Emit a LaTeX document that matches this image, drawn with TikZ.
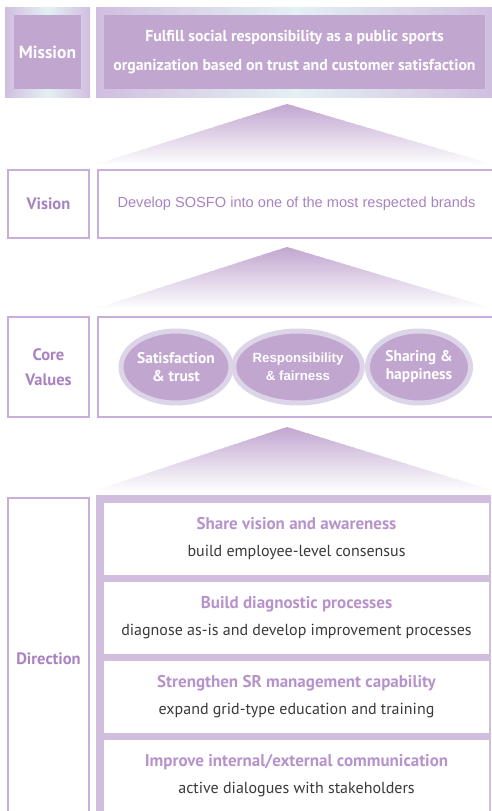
\documentclass[tikz,border=0pt]{standalone}
\usepackage{fontspec}
\setmainfont{PT Sans}
\newfontfamily\arialfont{Liberation Sans}
\usetikzlibrary{positioning,shapes.geometric,calc}
\definecolor{lilac}{HTML}{C1A6D0}
\definecolor{lilacframe}{HTML}{D1BEDF}
\definecolor{lilacline}{HTML}{C9ADDA}
\definecolor{lilactext}{HTML}{A983C1}
\definecolor{lilachead}{HTML}{B793CB}
\definecolor{lilacring}{HTML}{DCD5E8}
\definecolor{palecyan}{HTML}{E3F0F4}
\definecolor{bodygray}{HTML}{3A3A3A}
% rising roof between two rows: apex y, base y
\newcommand{\riseroof}[2]{%
  \foreach \i in {0,...,39}{
    \pgfmathsetmacro{\ta}{\i/40}
    \pgfmathsetmacro{\tb}{min((\i+1.5)/40,1)}
    \pgfmathsetmacro{\tone}{100-97*(\i+0.5)/40}
    \fill[lilac!\tone!white] (287-190*\ta,{#1+(#2-#1)*\ta}) -- (287+204*\ta,{#1+(#2-#1)*\ta})
      -- (287+204*\tb,{#1+(#2-#1)*\tb}) -- (287-190*\tb,{#1+(#2-#1)*\tb}) -- cycle;
  }}

\begin{document}
\begin{tikzpicture}[x=1pt,y=-1pt,
    lblbox/.style={draw=lilacline,line width=2pt,fill=white,minimum width=81pt,inner sep=0pt,align=center,text=lilactext,font=\bfseries\fontsize{16.5}{25}\selectfont},
    rowbox/.style={draw=lilacline,line width=2pt,fill=white,minimum width=397pt,inner sep=0pt,align=center},
    glowbox/.style={left color=lilacframe,right color=lilacframe,middle color=palecyan,inner sep=0pt},
    valuenode/.style={ellipse,draw=lilacring,line width=5pt,fill=lilac,minimum width=103pt,minimum height=72pt,inner sep=0pt,align=center,text=white,font=\bfseries\fontsize{15.5}{18}\selectfont},
    stepbox/.style={fill=white,minimum width=385pt,minimum height=72pt,inner sep=0pt,align=center,font=\fontsize{16}{27}\selectfont}]
  \useasboundingbox (0,0) rectangle (491,811);
  % mission
  \node[glowbox,minimum width=85pt,minimum height=90pt] (missionglow) at (47.5,52) {};
  \node[fill=lilac,minimum width=67pt,minimum height=74pt,inner sep=0pt,text=white,font=\bfseries\fontsize{17.5}{18}\selectfont] (mission) at (missionglow.center) {Mission};
  \node[glowbox,minimum width=399pt,minimum height=90pt] (missionglowR) at (295.5,52) {};
  \node[fill=lilac,minimum width=381pt,minimum height=74pt,inner sep=0pt,align=center,text=white,font=\bfseries\fontsize{15.8}{29}\selectfont] (missiontext) at (294.5,52) {Fulfill social responsibility as a public sports\\organization based on trust and customer satisfaction};
  \riseroof{104}{164}
  % vision
  \node[lblbox,minimum height=68pt] (vision) at (48.5,204) {Vision};
  \node[rowbox,minimum height=68pt] (visiontext) at (296.5,204) {\arialfont\fontsize{14.6}{17}\selectfont\color{lilactext}Develop SOSFO into one of the most respected brands};
  \riseroof{247}{308}
  % core values
  \node[lblbox,minimum height=100pt] (core) at (48.5,367) {Core\\Values};
  \node[rowbox,minimum height=100pt] (corebox) at (296.5,367) {};
  \node[valuenode] (value1) at (176,367) {Satisfaction\\\& trust};
  \node[valuenode,font=\arialfont\bfseries\fontsize{13.3}{18}\selectfont] (value2) at (298,367) {Responsibility\\\& fairness};
  \node[valuenode] (value3) at (419,367) {Sharing \&\\happiness};
  \riseroof{427}{490}
  % direction
  \node[lblbox,minimum height=322pt] (direction) at (48.5,659) {Direction};
  \node[fill=lilacframe,minimum width=395pt,minimum height=325pt,inner sep=0pt] (dirframe) at (293.5,657.5) {};
  \node[stepbox] (step1) at (296.5,539) {{\bfseries\fontsize{17}{27}\selectfont\color{lilachead}Share vision and awareness}\\\color{bodygray}build employee-level consensus};
  \node[stepbox] (step2) at (296.5,618) {{\bfseries\fontsize{17}{27}\selectfont\color{lilachead}Build diagnostic processes}\\\color{bodygray}diagnose as-is and develop improvement processes};
  \node[stepbox] (step3) at (296.5,697) {{\bfseries\fontsize{17}{27}\selectfont\color{lilachead}Strengthen SR management capability}\\\color{bodygray}expand grid-type education and training};
  \node[stepbox] (step4) at (296.5,776) {{\bfseries\fontsize{17}{27}\selectfont\color{lilachead}Improve internal/external communication}\\\color{bodygray}active dialogues with stakeholders};
\end{tikzpicture}
\end{document}
